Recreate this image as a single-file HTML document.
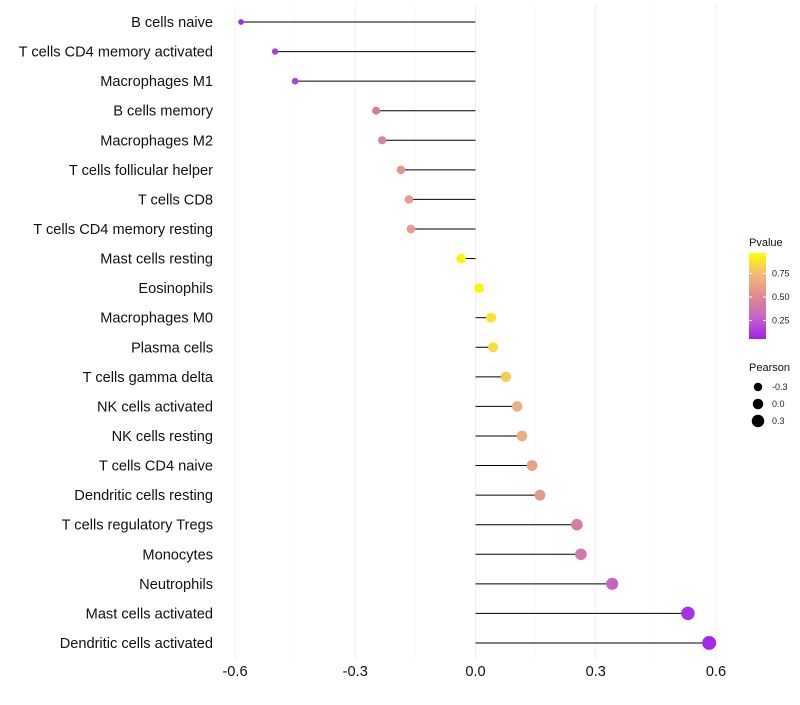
<!DOCTYPE html>
<html><head><meta charset="utf-8"><style>
body{margin:0;background:#fff;font-family:"Liberation Sans",sans-serif}
svg text{font-family:"Liberation Sans",sans-serif}
</style></head><body>
<svg id="chart" width="800" height="700"></svg>
<script>
const categories=["B cells naive","T cells CD4 memory activated","Macrophages M1","B cells memory","Macrophages M2","T cells follicular helper","T cells CD8","T cells CD4 memory resting","Mast cells resting","Eosinophils","Macrophages M0","Plasma cells","T cells gamma delta","NK cells activated","NK cells resting","T cells CD4 naive","Dendritic cells resting","T cells regulatory  Tregs","Monocytes","Neutrophils","Mast cells activated","Dendritic cells activated"];
const pearson=[-0.585,-0.50,-0.45,-0.248,-0.233,-0.186,-0.166,-0.161,-0.036,0.009,0.039,0.044,0.076,0.104,0.116,0.141,0.161,0.253,0.263,0.341,0.530,0.583];
const pvalues=[0.03,0.1,0.12,0.4,0.42,0.55,0.6,0.6,0.95,0.97,0.9,0.88,0.82,0.7,0.68,0.62,0.58,0.4,0.38,0.25,0.06,0.03];
const xTicks=[-0.6,-0.3,0.0,0.3,0.6];
const xTickLabels=["-0.6","-0.3","0.0","0.3","0.6"];
const colorTicks=[0.25,0.5,0.75];
const sizeLegend=[-0.3,0.0,0.3];

const NS="http://www.w3.org/2000/svg";
const svg=document.getElementById('chart');
function mk(t,a,p){const e=document.createElementNS(NS,t);for(const k in a)e.setAttribute(k,a[k]);(p||svg).appendChild(e);return e;}
const x=v=>475.5+v*400.8;
const y=i=>22+i*29.57;
const r=v=>4.9+v*3.5;
function lerp(a,b,t){return a.map((c,i)=>Math.round(c+(b[i]-c)*t));}
const stops=[[0,[160,32,240]],[0.25,[196,100,200]],[0.5,[226,138,144]],[0.75,[242,184,120]],[1,[255,255,0]]];
function col(p){for(let i=1;i<stops.length;i++){if(p<=stops[i][0]){const t=(p-stops[i-1][0])/(stops[i][0]-stops[i-1][0]);const c=lerp(stops[i-1][1],stops[i][1],t);return `rgb(${c})`;}}return 'rgb(255,255,0)';}

for(let i=0;i<xTicks.length;i++){
  const g=mk('line',{x1:x(xTicks[i]),x2:x(xTicks[i]),y1:5,y2:660,stroke:'#f0f0f0','stroke-width':1});
  
  if(i<xTicks.length-1){const m=(xTicks[i]+xTicks[i+1])/2;
    const gm=mk('line',{x1:x(m),x2:x(m),y1:5,y2:660,stroke:'#f6f6f6','stroke-width':0.6});
    }
  const t=mk('text',{x:x(xTicks[i]),y:676,'text-anchor':'middle','font-size':14.6,fill:'#111'});
  t.textContent=xTickLabels[i];
  
}
categories.forEach((c,i)=>{
  const l=mk('text',{x:213,y:y(i)+5,'text-anchor':'end','font-size':14.6,fill:'#111'});
  l.textContent=c;
  
  const s=mk('line',{x1:x(0),x2:x(pearson[i]),y1:y(i),y2:y(i),stroke:'#000','stroke-width':1});
  
  const d=mk('circle',{cx:x(pearson[i]),cy:y(i),r:r(pearson[i]),fill:col(pvalues[i])});
  
});
const defs=mk('defs',{});
const lg=mk('linearGradient',{id:'pg',x1:0,y1:1,x2:0,y2:0},defs);
stops.forEach(s=>mk('stop',{offset:s[0],'stop-color':`rgb(${s[1]})`},lg));
const lt=mk('text',{x:749,y:246,'font-size':11,fill:'#111'});lt.textContent='Pvalue';

const cb=mk('rect',{x:749,y:253,width:17,height:86,fill:'url(#pg)'});

const cy=p=>344-p*94;
colorTicks.forEach(p=>{
  const tk=mk('line',{x1:749,x2:752,y1:cy(p),y2:cy(p),stroke:'#fff'});
  const tk2=mk('line',{x1:763,x2:766,y1:cy(p),y2:cy(p),stroke:'#fff'});
  const t=mk('text',{x:772,y:cy(p)+3,'font-size':9,fill:'#222'});t.textContent=p.toFixed(2);
  
});
const st=mk('text',{x:749,y:371,'font-size':11,fill:'#111'});st.textContent='Pearson';

sizeLegend.forEach((v,i)=>{
  const c=mk('circle',{cx:758,cy:387+i*17,r:r(v)*0.95+0.6,fill:'#000'});
  
  const t=mk('text',{x:772,y:390+i*17,'font-size':9,fill:'#222'});t.textContent=v.toFixed(1);
  
});
</script>
</body></html>
